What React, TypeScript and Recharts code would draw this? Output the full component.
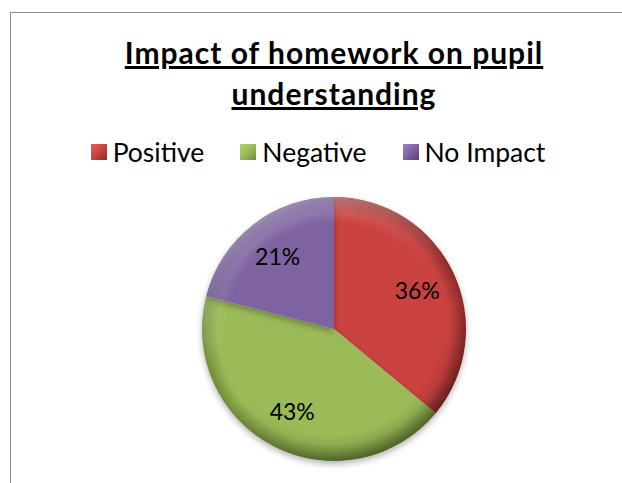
import { PieChart, Pie, Cell } from 'recharts';

const categories = ['Positive', 'Negative', 'No Impact'];
const values = [36, 43, 21];
const baseColors = ['#C94341', '#9BBB59', '#7E62A1'];
const lightColors = ['#E0605C', '#B4D274', '#9C84C2'];
const darkColors = ['#8A2A28', '#6F8C38', '#56407A'];

const data = categories.map((name, i) => ({ name, value: values[i] }));
const rim = [{ name: 'rim', value: 1 }];

const RAD = Math.PI / 180;
const CX = 334;
const CY = 329;
const R = 132;

const renderLabel = (props: any) => {
  const { cx, cy, midAngle, percent } = props;
  const x = cx + 92 * Math.cos(-midAngle * RAD);
  const y = cy + 92 * Math.sin(-midAngle * RAD);
  return (
    <text
      x={x}
      y={y}
      fill="#000"
      textAnchor="middle"
      dominantBaseline="central"
      fontFamily="Lato"
      fontSize={23}
    >
      {`${Math.round(percent * 100)}%`}
    </text>
  );
};

export default function App() {
  return (
    <div style={{ position: 'absolute', left: 0, top: 0, width: 622, height: 483, background: '#fff' }}>
      <div
        style={{
          position: 'absolute',
          left: 10,
          top: 12,
          width: 612,
          height: 471,
          borderLeft: '1.5px solid #8c8c8c',
          borderTop: '1.5px solid #8c8c8c',
        }}
      />
      <div
        style={{
          position: 'absolute',
          left: 0,
          top: 32,
          width: 668,
          textAlign: 'center',
          fontFamily: 'Lato',
          fontWeight: 'bold',
          fontSize: 30,
          letterSpacing: 1,
          lineHeight: '41px',
          textDecoration: 'underline',
          color: '#000',
        }}
      >
        Impact of homework on pupil
        <br />
        understanding
      </div>
      <div
        style={{
          position: 'absolute',
          left: 0,
          top: 134,
          width: 636,
          display: 'flex',
          justifyContent: 'center',
          fontFamily: 'Lato',
          fontSize: 26.5,
          lineHeight: '36px',
          color: '#000',
        }}
      >
        {categories.map((c, i) => (
          <div key={c} style={{ display: 'flex', alignItems: 'center', marginRight: i < 2 ? 36 : 0 }}>
            <span
              style={{
                display: 'inline-block',
                width: 16,
                height: 16,
                marginRight: 6,
                background: `linear-gradient(135deg, ${lightColors[i]}, ${baseColors[i]} 50%, ${darkColors[i]})`,
              }}
            />
            <span>{c}</span>
          </div>
        ))}
      </div>
      <PieChart
        width={622}
        height={483}
        margin={{ top: 0, right: 0, bottom: 0, left: 0 }}
        style={{ position: 'absolute', left: 0, top: 0 }}
      >
        <defs>
          <filter id="shadow" x="-20%" y="-20%" width="140%" height="140%">
            <feDropShadow dx="0" dy="3" stdDeviation="3" floodColor="#000" floodOpacity="0.3" />
          </filter>
          {baseColors.map((c, i) => (
            <radialGradient key={c} id={`g${i}`} gradientUnits="userSpaceOnUse" cx={CX} cy={CY} r={R}>
              <stop offset="0%" stopColor={baseColors[i]} />
              <stop offset="88%" stopColor={baseColors[i]} />
              <stop offset="100%" stopColor={darkColors[i]} />
            </radialGradient>
          ))}
          <linearGradient id="lin" gradientUnits="userSpaceOnUse" x1={CX - 60} y1={CY - R} x2={CX + 60} y2={CY + R}>
            <stop offset="0%" stopColor="#fff" stopOpacity={0.45} />
            <stop offset="45%" stopColor="#fff" stopOpacity={0} />
            <stop offset="60%" stopColor="#000" stopOpacity={0} />
            <stop offset="100%" stopColor="#000" stopOpacity={0.35} />
          </linearGradient>
          <radialGradient id="rimGrad" gradientUnits="userSpaceOnUse" cx={CX} cy={CY} r={R}>
            <stop offset="0%" stopColor="#000" />
            <stop offset="80%" stopColor="#000" />
            <stop offset="100%" stopColor="#fff" />
          </radialGradient>
          <mask id="rimMask" maskUnits="userSpaceOnUse" x={0} y={0} width={622} height={483}>
            <rect x={0} y={0} width={622} height={483} fill="url(#rimGrad)" />
          </mask>
        </defs>
        <Pie
          data={data}
          dataKey="value"
          nameKey="name"
          cx={CX}
          cy={CY}
          outerRadius={R}
          startAngle={90}
          endAngle={-270}
          stroke="none"
          label={renderLabel}
          labelLine={false}
          isAnimationActive={false}
          style={{ filter: 'url(#shadow)' }}
        >
          {data.map((d, i) => (
            <Cell key={d.name} fill={`url(#g${i})`} />
          ))}
        </Pie>
        <Pie
          data={rim}
          dataKey="value"
          cx={CX}
          cy={CY}
          outerRadius={R}
          startAngle={90}
          endAngle={-270}
          stroke="none"
          isAnimationActive={false}
          legendType="none"
        >
          <Cell fill="url(#lin)" mask="url(#rimMask)" />
        </Pie>
      </PieChart>
    </div>
  );
}
